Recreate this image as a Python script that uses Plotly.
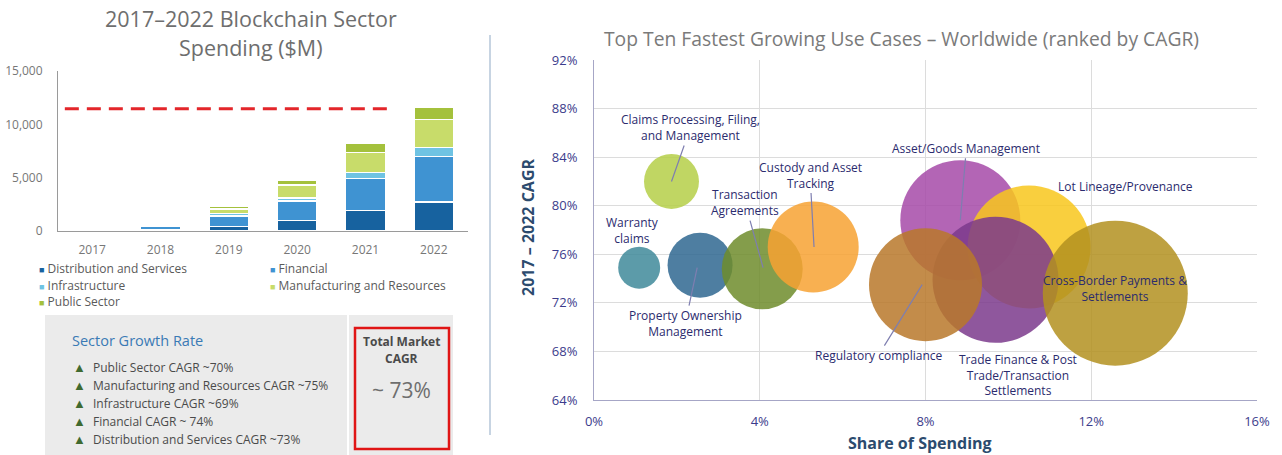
import plotly.graph_objects as go

W, H = 1282, 455
FONT = "Open Sans"

# ---------------- Left chart data ----------------
years = ["2017", "2018", "2019", "2020", "2021", "2022"]
dist_services = [5, 150, 420, 1000, 1900, 2700]
financial = [10, 300, 1000, 1800, 3000, 4300]
infrastructure = [3, 80, 200, 300, 600, 850]
manufacturing = [3, 60, 450, 1200, 1850, 2600]
public_sector = [2, 30, 230, 450, 850, 1150]
target_line = 11450
y_ticks_left = [0, 5000, 10000, 15000]
sector_names = ["Distribution and Services", "Financial", "Infrastructure",
                "Manufacturing and Resources", "Public Sector"]
sector_colors = ["#17629f", "#3f93d2", "#6fc3e3", "#c8dc6a", "#a4c13c"]
growth_items = ["Public Sector CAGR ~70%", "Manufacturing and Resources CAGR ~75%",
                "Infrastructure CAGR ~69%", "Financial CAGR ~ 74%",
                "Distribution and Services CAGR ~73%"]

# ---------------- Right chart data ----------------
use_cases = ["Warranty claims", "Property Ownership Management", "Transaction Agreements",
             "Custody and Asset Tracking", "Claims Processing, Filing, and Management",
             "Asset/Goods Management", "Lot Lineage/Provenance",
             "Trade Finance & Post Trade/Transaction Settlements",
             "Regulatory compliance", "Cross-Border Payments & Settlements"]
share_pct = [1.09, 2.56, 4.06, 5.29, 1.87, 8.84, 10.50, 9.69, 8.00, 12.58]
cagr_pct = [74.9, 75.1, 74.8, 76.6, 82.0, 78.8, 76.6, 73.9, 73.5, 72.8]
bubble_size = [42, 65, 81, 91, 55, 120, 123, 126, 113, 145]
bubble_colors = ["#3f8a9a", "#2f6791", "#6e8c2c", "#f7a233", "#b5cf48",
                 "#a64aa8", "#f8c71c", "#7b3a8c", "#b9782a", "#b39120"]
x_ticks_right = [0, 4, 8, 12, 16]
y_ticks_right = [64, 68, 72, 76, 80, 84, 88, 92]

fig = go.Figure()

# stacked bars
for name, vals, col in zip(sector_names,
                           [dist_services, financial, infrastructure, manufacturing, public_sector],
                           sector_colors):
    fig.add_trace(go.Bar(x=years, y=vals, name=name,
                         marker=dict(color=col, line=dict(color="white", width=1.5)),
                         xaxis="x", yaxis="y", showlegend=False))

# bubbles
fig.add_trace(go.Scatter(x=share_pct, y=cagr_pct, mode="markers", xaxis="x2", yaxis="y2",
                         text=use_cases, showlegend=False,
                         marker=dict(size=bubble_size, sizemode="diameter", color=bubble_colors,
                                     opacity=0.85, line=dict(width=0))))

def px_x(p):
    return p / W

def px_y(p):
    return 1 - p / H

fig.update_layout(
    width=W, height=H, margin=dict(l=0, r=0, t=0, b=0, pad=0, autoexpand=False),
    paper_bgcolor="white", plot_bgcolor="white",
    font=dict(family=FONT, color="#555555"),
    barmode="stack", bargap=0.42,
    xaxis=dict(domain=[px_x(58), px_x(468)], anchor="y", type="category", showline=True,
               linecolor="#9a9a9a", linewidth=1, ticks="", showgrid=False, automargin=False,
               tickfont=dict(size=12, color="#777777"), ticklabelstandoff=8),
    yaxis=dict(domain=[px_y(231), px_y(71)], anchor="x", range=[0, 15000], tickvals=y_ticks_left,
               ticktext=[f"{v:,}" for v in y_ticks_left], showline=True, linecolor="#9a9a9a",
               showgrid=False, zeroline=False, tickfont=dict(size=12, color="#777777"),
               ticklabelstandoff=12, automargin=False),
    xaxis2=dict(domain=[px_x(594), px_x(1257)], anchor="y2", range=[0, 16], tickvals=x_ticks_right,
                ticktext=[f"{v}%" for v in x_ticks_right], showline=True, linecolor="#a6a6c6",
                gridcolor="#dcdcdc", zeroline=False, tickfont=dict(size=13, color="#3c3c8c"),
                ticklabelstandoff=9, automargin=False),
    yaxis2=dict(domain=[px_y(400), px_y(60)], anchor="x2", range=[64, 92], tickvals=y_ticks_right,
                ticktext=[f"{v}%" for v in y_ticks_right], showline=True, linecolor="#a6a6c6",
                gridcolor="#dcdcdc", zeroline=False, tickfont=dict(size=13, color="#3c3c8c"),
                ticklabelstandoff=13, automargin=False),
)

shapes = []
# red dashed target line
shapes.append(dict(type="line", xref="x", yref="y", x0=-0.4, x1=4.42, y0=target_line, y1=target_line,
                   line=dict(color="#e3262a", width=3, dash="14px,8px")))
# gray box
shapes.append(dict(type="rect", xref="paper", yref="paper", x0=px_x(45), x1=px_x(453),
                   y0=px_y(455), y1=px_y(315), fillcolor="#ebebeb", line=dict(width=0), layer="below"))
shapes.append(dict(type="line", xref="paper", yref="paper", x0=px_x(348), x1=px_x(348),
                   y0=px_y(455), y1=px_y(315), line=dict(color="white", width=2)))
shapes.append(dict(type="rect", xref="paper", yref="paper", x0=px_x(355), x1=px_x(449),
                   y0=px_y(449), y1=px_y(328), line=dict(color="#e01515", width=2.5)))
# vertical divider
shapes.append(dict(type="line", xref="paper", yref="paper", x0=px_x(490), x1=px_x(490),
                   y0=px_y(435), y1=px_y(35), line=dict(color="#b4c6d8", width=1.5)))
fig.update_layout(shapes=shapes)

ann = []
def text(x, y, t, size=11, color="#555555", xanchor="center", bold=False, **kw):
    if bold:
        t = "<b>" + t + "</b>"
    ann.append(dict(x=px_x(x), y=px_y(y), xref="paper", yref="paper", text=t, showarrow=False,
                    xanchor=xanchor, yanchor="middle", font=dict(size=size, color=color, family=FONT), **kw))

# titles
text(251, 19, "2017–2022 Blockchain Sector", size=21.5, color="#6e6e6e")
text(251, 48, "Spending ($M)", size=21.5, color="#6e6e6e")
text(901, 38, "Top Ten Fastest Growing Use Cases – Worldwide (ranked by CAGR)", size=19.3, color="#7a7a7a")

# legend
leg_pos = [(37, 268), (268, 268), (37, 285), (268, 285), (37, 301)]
for (lx, ly), name, col in zip(leg_pos, sector_names, sector_colors):
    text(lx, ly, f"<span style='color:{col};font-size:9px'>■</span> {name}", size=12,
         color="#5a5a5a", xanchor="left")

# sector growth box
text(70, 340, "Sector Growth Rate", size=14.5, color="#3a7ab5", xanchor="left")
for i, it in enumerate(growth_items):
    yy = 367 + i * 18
    text(71, yy, "▲", size=13, color="#3f6a30", xanchor="left")
    text(91, yy, it, size=12, color="#4a4a4a", xanchor="left")
text(402, 341, "Total Market", size=12, color="#4a4a4a", bold=True)
text(402, 358, "CAGR", size=12, color="#4a4a4a", bold=True)
text(402, 390, "~ 73%", size=21, color="#6e6e6e")

# axis titles right
text(920, 443, "Share of Spending", size=16, color="#2c4b6e", bold=True)
ann.append(dict(x=px_x(528), y=px_y(228), xref="paper", yref="paper", text="<b>2017 – 2022 CAGR</b>",
                showarrow=False, textangle=-90, font=dict(size=16, color="#2c4b6e", family=FONT)))

# bubble labels
LBL = dict(size=12, color="#2b2b6e", family=FONT)
arrow_labels = [
    ("Claims Processing, Filing,<br>and Management", 1.87, 82.0, 19, -54),
    ("Custody and Asset<br>Tracking", 5.31, 76.6, -4, -72),
    ("Transaction<br>Agreements", 4.08, 74.9, -18, -65),
    ("Property Ownership<br>Management", 2.49, 74.9, -12, 56),
    ("Asset/Goods Management", 8.84, 78.8, 6, -72),
    ("Regulatory compliance", 7.92, 73.5, -44, 71),
]
for t, x, y, axp, ayp in arrow_labels:
    ann.append(dict(x=x, y=y, xref="x2", yref="y2", text=t, showarrow=True, arrowhead=0,
                    arrowwidth=1.2, arrowcolor="#7e7eb0", ax=axp, ay=ayp, font=LBL, standoff=0))
plain_labels = [
    ("Warranty<br>claims", 0.94, 78.0),
    ("Lot Lineage/Provenance", 12.83, 81.55),
    ("Cross-Border Payments &<br>Settlements", 12.58, 73.2),
    ("Trade Finance & Post<br>Trade/Transaction<br>Settlements", 10.23, 66.1),
]
for t, x, y in plain_labels:
    ann.append(dict(x=x, y=y, xref="x2", yref="y2", text=t, showarrow=False, font=LBL))

fig.update_layout(annotations=ann)
fig.write_html("out.html")
